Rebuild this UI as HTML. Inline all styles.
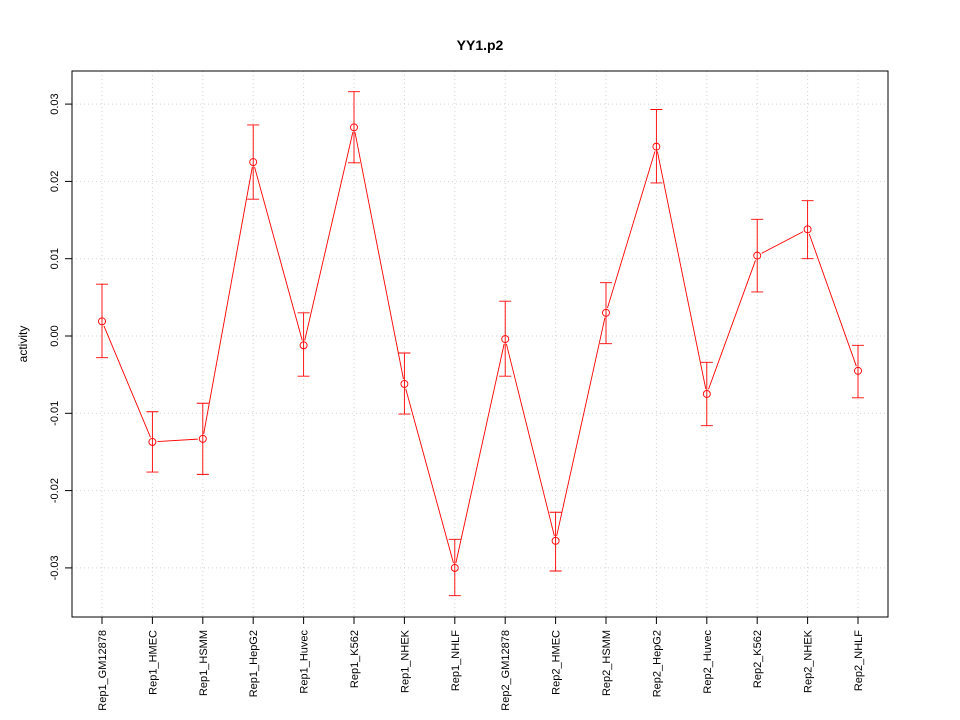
<!DOCTYPE html>
<html><head><meta charset="utf-8"><style>body{margin:0;background:#fff}svg{display:block;font-family:"Liberation Sans",sans-serif}</style></head>
<body>
<svg id="chart" width="960" height="720" xmlns="http://www.w3.org/2000/svg">
<rect width="960" height="720" fill="#fff"/>
<text x="480" y="50" text-anchor="middle" font-size="14" font-weight="bold">YY1.p2</text>
<text transform="translate(27,344) rotate(-90)" text-anchor="middle" font-size="12">activity</text>
<g id="grid"></g><g id="axes"></g><g id="marks"></g>
<rect x="72" y="71" width="816" height="546" fill="none" stroke="#000"/>
</svg>
<script>
const categories=["Rep1_GM12878","Rep1_HMEC","Rep1_HSMM","Rep1_HepG2","Rep1_Huvec","Rep1_K562","Rep1_NHEK","Rep1_NHLF","Rep2_GM12878","Rep2_HMEC","Rep2_HSMM","Rep2_HepG2","Rep2_Huvec","Rep2_K562","Rep2_NHEK","Rep2_NHLF"];
const values=[0.0019,-0.0137,-0.0133,0.0225,-0.0012,0.0270,-0.0062,-0.0300,-0.0004,-0.0265,0.0030,0.0245,-0.0075,0.0104,0.0138,-0.0045];
const upper=[0.0067,-0.0098,-0.0087,0.0273,0.0030,0.0316,-0.0022,-0.0263,0.0045,-0.0228,0.0069,0.0293,-0.0034,0.0151,0.0175,-0.0012];
const lower=[-0.0028,-0.0176,-0.0179,0.0177,-0.0052,0.0224,-0.0101,-0.0336,-0.0052,-0.0304,-0.0010,0.0198,-0.0116,0.0057,0.0100,-0.0080];
const yTicks=[-0.03,-0.02,-0.01,0.00,0.01,0.02,0.03];
const yTickLabels=["-0.03","-0.02","-0.01","0.00","0.01","0.02","0.03"];
const NS="http://www.w3.org/2000/svg";
const x=i=>102+i*(858-102)/(categories.length-1);
const y=v=>336-v*7730;
function mk(p,t,a){const e=document.createElementNS(NS,t);for(const k in a)e.setAttribute(k,a[k]);document.getElementById(p).appendChild(e);return e;}
categories.forEach((c,i)=>{
 const g=mk("grid","line",{x1:x(i),x2:x(i),y1:71,y2:617,stroke:"#d3d3d3","stroke-dasharray":"1,3"});
 
 
 const t=mk("axes","line",{x1:x(i),x2:x(i),y1:617,y2:624,stroke:"#000"});
 
 
 const l=mk("axes","text",{transform:`translate(${x(i)+4},630) rotate(-90)`,"text-anchor":"end","font-size":"11"});
 l.textContent=c;
 
 
});
yTicks.forEach((v,i)=>{
 const g=mk("grid","line",{x1:72,x2:888,y1:y(v),y2:y(v),stroke:"#d3d3d3","stroke-dasharray":"1,3"});
 
 
 const t=mk("axes","line",{x1:65,x2:72,y1:y(v),y2:y(v),stroke:"#000"});
 
 
 const l=mk("axes","text",{transform:`translate(58,${y(v)}) rotate(-90)`,"text-anchor":"middle","font-size":"11"});
 l.textContent=yTickLabels[i];
 
 
});
const red="#ff0000",r=3.5;
for(let i=0;i<values.length-1;i++){
 const x1=x(i),y1=y(values[i]),x2=x(i+1),y2=y(values[i+1]);
 const dx=x2-x1,dy=y2-y1,d=Math.hypot(dx,dy),g=r+1.5;
 const s=mk("marks","line",{x1:x1+dx*g/d,y1:y1+dy*g/d,x2:x2-dx*g/d,y2:y2-dy*g/d,stroke:red,"stroke-width":"0.9"});
 
 
}
values.forEach((v,i)=>{
 const e=mk("marks","path",{d:`M${x(i)},${y(upper[i])}V${y(lower[i])}M${x(i)-6},${y(upper[i])}H${x(i)+6}M${x(i)-6},${y(lower[i])}H${x(i)+6}`,stroke:red,fill:"none","stroke-width":"0.9"});
 
 
 const p=mk("marks","circle",{cx:x(i),cy:y(v),r:r,fill:"none",stroke:red,"stroke-width":"0.9"});
 
 
});
</script>
</body></html>
